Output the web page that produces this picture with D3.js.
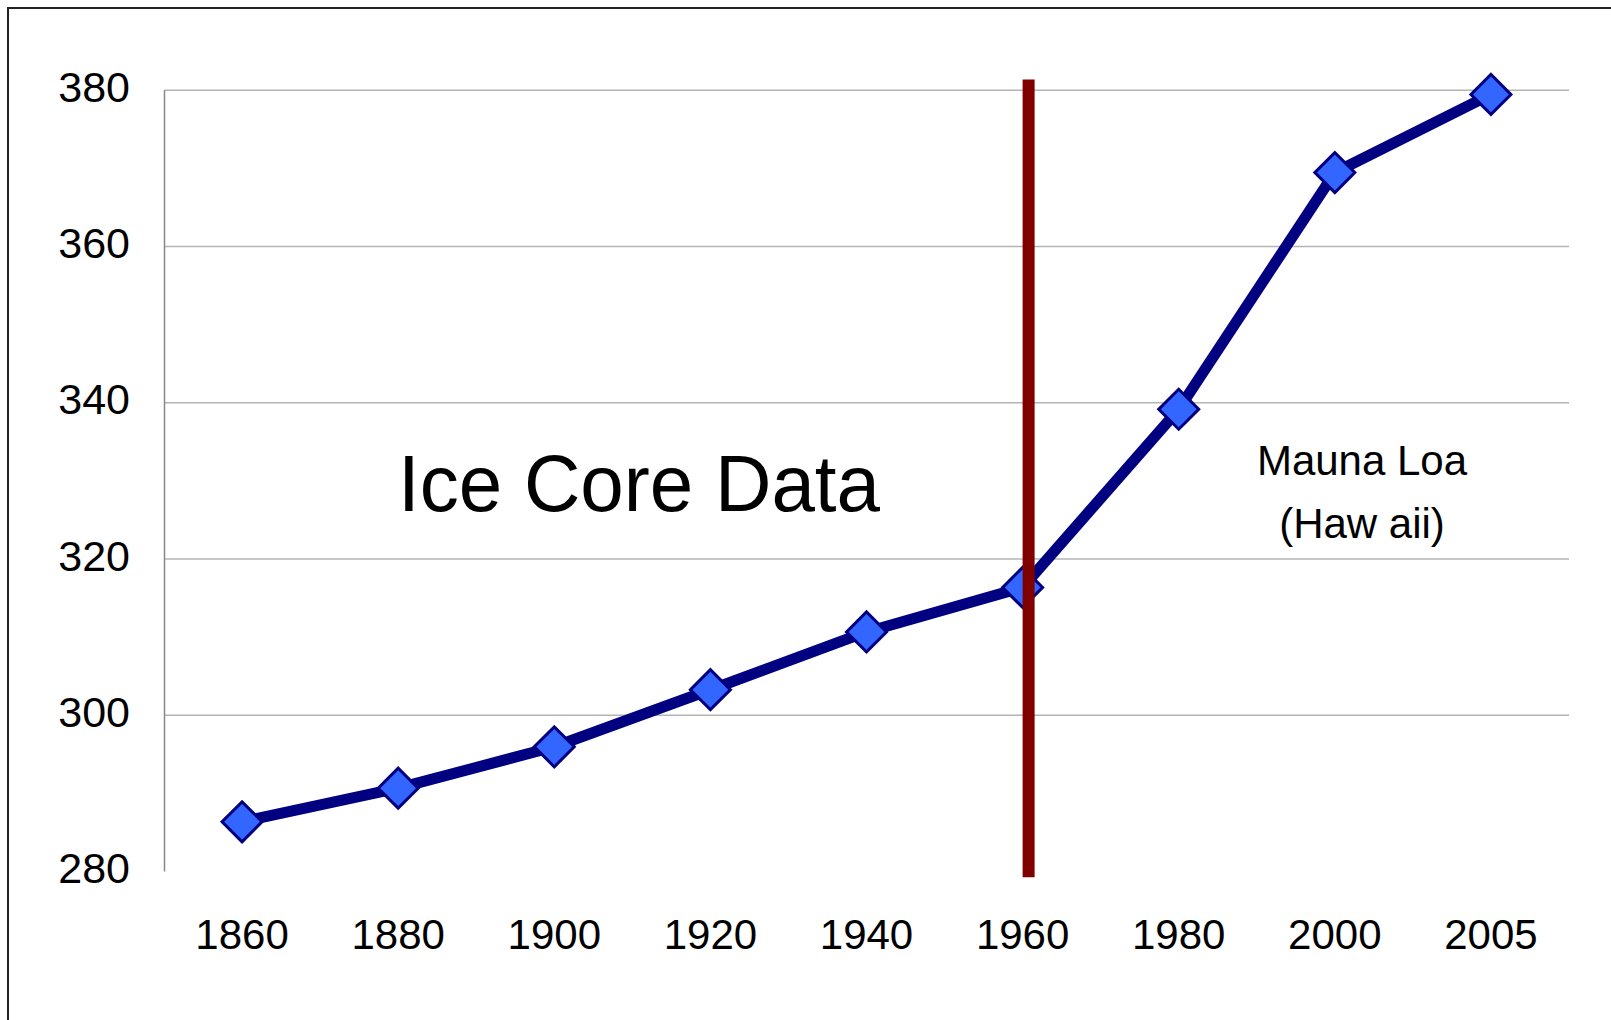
<!DOCTYPE html>
<html>
<head>
<meta charset="utf-8">
<script src="https://cdn.jsdelivr.net/npm/d3@7"></script>
<style>
  html, body { margin: 0; padding: 0; background: #fff; }
  svg { display: block; }
  svg text { font-family: "Liberation Sans", Arial, sans-serif; }
</style>
</head>
<body>
<svg id="chart" width="1611" height="1020"></svg>
<script>
// data
var years = ["1860", "1880", "1900", "1920", "1940", "1960", "1980", "2000", "2005"];
var co2 = [286.3, 290.6, 295.9, 303.2, 310.6, 316.3, 339.1, 369.4, 379.4];
var yTicks = [280, 300, 320, 340, 360, 380];
var dividerYear = "1960";
var labelLeft = "Ice Core Data";
var labelRight = ["Mauna Loa", "(Haw aii)"];

var svg = d3.select("#chart");
var margin = {top: 89.7, right: 42, bottom: 149, left: 164};
var width = 1611 - margin.left - margin.right,
    height = 1020 - margin.top - margin.bottom;

// frame round the slide (runs off right and bottom)
svg.append("rect")
  .attr("x", 8).attr("y", 8)
  .attr("width", 1700).attr("height", 1100)
  .attr("fill", "none")
  .attr("stroke", "#222")
  .attr("stroke-width", 2);

var x = d3.scaleBand().domain(years).range([0, width]).padding(0);
var y = d3.scaleLinear().domain([280, 380]).range([height, 0]);

var g = svg.append("g")
  .attr("transform", "translate(" + margin.left + "," + margin.top + ")");

// gridlines
g.append("g")
  .attr("class", "grid")
  .call(d3.axisLeft(y).tickValues(yTicks.slice(1)).tickSize(-width).tickFormat(""))
  .call(function(s) {
    s.select(".domain").remove();
    s.selectAll("line").attr("stroke", "#b4b4b4").attr("stroke-width", 1.5);
  });

// y axis
g.append("g")
  .call(d3.axisLeft(y).tickValues(yTicks).tickSize(0).tickPadding(34))
  .call(function(s) {
    s.attr("font-family", null);
    s.select(".domain").attr("stroke", "#888").attr("stroke-width", 1.5);
    s.selectAll("text")
      .attr("font-size", 43)
      .attr("fill", "#000")
      .attr("dy", "0.27em");
  });

// x axis labels
g.append("g")
  .attr("transform", "translate(0," + height + ")")
  .call(d3.axisBottom(x).tickSize(0).tickPadding(48))
  .call(function(s) {
    s.attr("font-family", null);
    s.select(".domain").remove();
    s.selectAll("text")
      .attr("font-size", 42)
      .attr("fill", "#000");
  });

var cx = function(d, i) { return x(years[i]) + x.bandwidth() / 2; };

var line = d3.line()
  .x(function(d, i) { return cx(d, i); })
  .y(function(d) { return y(d); });

g.append("path")
  .datum(co2)
  .attr("d", line)
  .attr("fill", "none")
  .attr("stroke", "#000080")
  .attr("stroke-width", 11)
  .attr("stroke-linejoin", "round");

g.selectAll(".pt")
  .data(co2)
  .enter().append("path")
  .attr("class", "pt")
  .attr("d", d3.symbol().type(d3.symbolSquare).size(800))
  .attr("transform", function(d, i) {
    return "translate(" + cx(d, i) + "," + y(d) + ") rotate(45)";
  })
  .attr("fill", "#3366ff")
  .attr("stroke", "#000080")
  .attr("stroke-width", 3);

// divider between ice core and Mauna Loa records
var divX = x(dividerYear) + x.bandwidth() / 2 + 6;
g.append("line")
  .attr("x1", divX).attr("x2", divX)
  .attr("y1", y(381.3)).attr("y2", y(279.2))
  .attr("stroke", "#800000")
  .attr("stroke-width", 12);

// annotations
g.append("text")
  .attr("x", 398 - margin.left)
  .attr("y", 510.7 - margin.top)
  .attr("font-size", 79)
  .attr("textLength", 482)
  .attr("lengthAdjust", "spacingAndGlyphs")
  .attr("fill", "#000")
  .text(labelLeft);

g.selectAll(".ml")
  .data(labelRight)
  .enter().append("text")
  .attr("class", "ml")
  .attr("x", 1362 - margin.left)
  .attr("y", function(d, i) { return 475 - margin.top + i * 63; })
  .attr("text-anchor", "middle")
  .attr("font-size", 42)
  .attr("fill", "#000")
  .text(function(d) { return d; });
</script>
</body>
</html>
